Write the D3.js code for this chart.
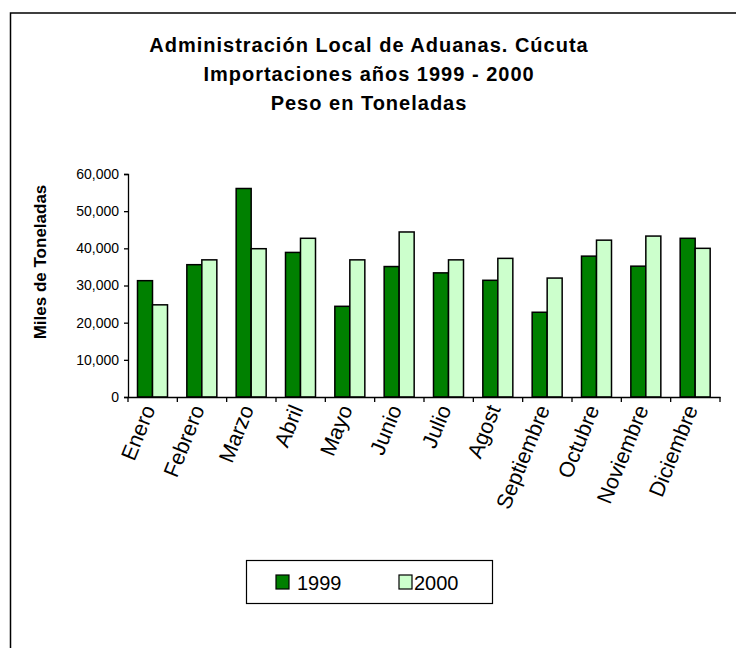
<!DOCTYPE html>
<html>
<head>
<meta charset="utf-8">
<script src="https://cdn.jsdelivr.net/npm/d3@7"></script>
<style>
    body { margin: 0; background: #fff; }
    svg { font-family: Arial, "Liberation Sans", sans-serif; }
</style>
</head>
<body>
<div id="chart"></div>
<script>
var months = ['Enero', 'Febrero', 'Marzo', 'Abril', 'Mayo', 'Junio', 'Julio', 'Agost',
    'Septiembre', 'Octubre', 'Noviembre', 'Diciembre'];
var series = ['1999', '2000'];
var values1999 = [31300, 35600, 56100, 38900, 24400, 35100, 33400, 31400, 22800, 37900, 35200, 42700];
var values2000 = [24800, 36900, 39900, 42700, 36900, 44400, 36900, 37300, 32000, 42200, 43300, 40000];
var yTicks = [0, 10000, 20000, 30000, 40000, 50000, 60000];
var titleLines = ['Administración Local de Aduanas. Cúcuta', 'Importaciones años 1999 - 2000', 'Peso en Toneladas'];
var colors = ['#008000', '#CCFFCC'];

var width = 736, height = 648;
var plot = {left: 128, right: 720, top: 174, bottom: 397};

var svg = d3.select('#chart').append('svg')
    .attr('width', width)
    .attr('height', height);

// outer frame, runs off the right and bottom edge
svg.append('rect')
    .attr('x', 10.5).attr('y', 13)
    .attr('width', 760).attr('height', 700)
    .attr('fill', 'none')
    .attr('stroke', '#000')
    .attr('stroke-width', 1.5);

svg.selectAll('text.title').data(titleLines).enter()
    .append('text')
    .attr('class', 'title')
    .attr('x', 369)
    .attr('y', function(d, i) { return 52 + i * 29; })
    .attr('text-anchor', 'middle')
    .attr('font-size', 20)
    .attr('letter-spacing', 1)
    .attr('font-weight', 'bold')
    .text(function(d) { return d; });

var x0 = d3.scaleBand().domain(months).range([plot.left, plot.right]);
var x1 = d3.scaleBand().domain(series).range([9.5, 9.5 + 30]);
var y = d3.scaleLinear().domain([0, 60000]).range([plot.bottom, plot.top]);

var rows = months.map(function(m, i) {
    return {month: m, vals: [values1999[i], values2000[i]]};
});

var groups = svg.selectAll('g.month').data(rows).enter()
    .append('g')
    .attr('class', 'month')
    .attr('transform', function(d) { return 'translate(' + x0(d.month) + ',0)'; });

groups.selectAll('rect').data(function(d) {
    return d.vals.map(function(v, i) { return {key: series[i], value: v, idx: i}; });
}).enter()
    .append('rect')
    .attr('x', function(d) { return x1(d.key); })
    .attr('width', x1.bandwidth())
    .attr('y', function(d) { return y(d.value); })
    .attr('height', function(d) { return plot.bottom - y(d.value); })
    .attr('fill', function(d) { return colors[d.idx]; })
    .attr('stroke', '#000')
    .attr('stroke-width', 1.5);

var yAxis = svg.append('g')
    .attr('transform', 'translate(' + plot.left + ',0)')
    .call(d3.axisLeft(y).tickValues(yTicks).tickSize(4).tickPadding(5).tickFormat(d3.format(',')));
yAxis.select('.domain').attr('stroke-width', 1.3);
yAxis.selectAll('.tick line').attr('stroke-width', 1.3);
yAxis.selectAll('text').attr('font-size', 14).attr('font-family', 'Arial, "Liberation Sans", sans-serif').attr('fill', '#000');

var xAxis = svg.append('g')
    .attr('transform', 'translate(0,' + plot.bottom + ')')
    .call(d3.axisBottom(x0).tickSize(0).tickFormat(''));
xAxis.select('.domain').attr('stroke-width', 1.3);

// tick marks between categories
var edges = months.map(function(m) { return x0(m); }).concat([plot.right]);
svg.selectAll('line.xtick').data(edges).enter()
    .append('line')
    .attr('class', 'xtick')
    .attr('x1', function(d) { return d; }).attr('x2', function(d) { return d; })
    .attr('y1', plot.bottom).attr('y2', plot.bottom + 5)
    .attr('stroke', '#000')
    .attr('stroke-width', 1.3);

svg.selectAll('text.xlabel').data(months).enter()
    .append('text')
    .attr('class', 'xlabel')
    .attr('text-anchor', 'end')
    .attr('font-size', 21.5)
    .attr('transform', function(d) {
        return 'translate(' + (x0(d) + x0.bandwidth() / 2 - 4) + ',' + (plot.bottom + 9) + ') rotate(-68)';
    })
    .attr('dy', '0.35em')
    .text(function(d) { return d; });

svg.append('text')
    .attr('transform', 'translate(46,262) rotate(-90)')
    .attr('text-anchor', 'middle')
    .attr('font-size', 17)
    .attr('font-weight', 'bold')
    .text('Miles de Toneladas');

// legend
var legend = svg.append('g');
legend.append('rect')
    .attr('x', 246.5).attr('y', 560.5)
    .attr('width', 246).attr('height', 43)
    .attr('fill', '#fff')
    .attr('stroke', '#000')
    .attr('stroke-width', 1.2);

var legendX = d3.scaleOrdinal().domain(series).range([276, 399]);
var items = legend.selectAll('g.item').data(series).enter()
    .append('g')
    .attr('class', 'item')
    .attr('transform', function(d) { return 'translate(' + legendX(d) + ',575)'; });
items.append('rect')
    .attr('width', 13).attr('height', 14)
    .attr('fill', function(d, i) { return colors[i]; })
    .attr('stroke', '#000')
    .attr('stroke-width', 1.2);
items.append('text')
    .attr('x', function(d, i) { return i === 0 ? 21 : 15; })
    .attr('y', 15)
    .attr('font-size', 20)
    .text(function(d) { return d; });
</script>
</body>
</html>
